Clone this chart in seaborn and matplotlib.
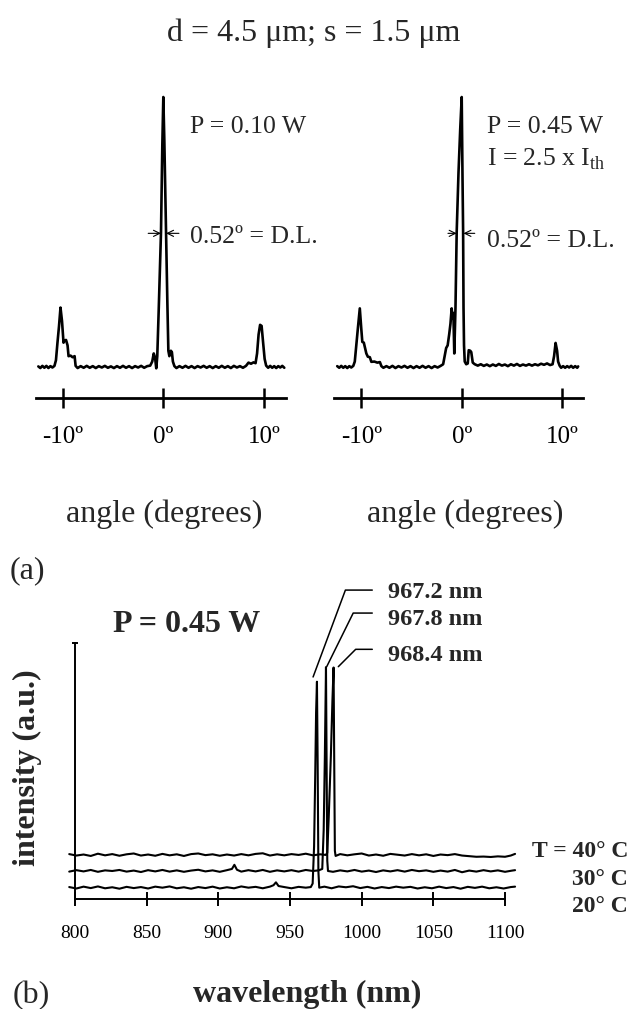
import pandas as pd
import matplotlib
matplotlib.use("Agg")
import matplotlib.pyplot as plt
import seaborn as sns

# far-field profiles (a): angle in degrees, intensity normalised to peak = 100
angle_010 = [-12.4, -12.2, -12.0, -11.8, -11.6, -11.4, -11.2, -11.0, -10.8,
             -10.65, -10.5, -10.35, -10.2, -10.05, -9.9, -9.8, -9.65, -9.5, -9.4, -9.2, -9.0, -8.8, -8.7,
             -8.5, -8.2, -7.9, -7.6, -7.3, -7.0, -6.7, -6.4, -6.1, -5.8, -5.5, -5.2, -4.9, -4.6, -4.3,
             -4.0, -3.7, -3.4, -3.1, -2.8, -2.5, -2.2, -1.9, -1.6, -1.3,
             -1.1, -0.95, -0.82, -0.7, -0.6, -0.45, -0.23, -0.1, 0.0, 0.1, 0.27, 0.4, 0.5, 0.6, 0.75,
             0.85, 0.95, 1.1,
             1.3, 1.6, 1.9, 2.2, 2.5, 2.8, 3.1, 3.4, 3.7, 4.0, 4.3, 4.6, 4.9, 5.2, 5.5, 5.8, 6.1, 6.4,
             6.7, 7.0, 7.3, 7.6, 7.9, 8.2,
             8.45, 8.7, 8.95, 9.15, 9.3, 9.45, 9.6, 9.75, 9.9, 10.05, 10.2,
             10.4, 10.6, 10.8, 11.0, 11.2, 11.4, 11.6, 11.8, 12.0]
level_010 = [0.2, -0.4, 0.4, -0.3, 0.4, -0.4, 0.3, -0.2, 0.4,
             2.5, 9.0, 15.0, 22.0, 17.0, 9.0, 9.8, 10.0, 8.0, 4.0, 4.2, 3.6, 4.0, 0.4,
             -0.4, 0.3, -0.3, 0.4, -0.3, 0.3, -0.4, 0.3, -0.2, 0.4, -0.3, 0.2, -0.4, 0.3, -0.3,
             0.4, -0.3, 0.3, -0.4, 0.3, -0.2, 0.4, -0.3, 0.3, 0.5,
             2.0, 5.0, 3.5, -0.5, 4.0, 22.0, 50.0, 82.0, 100.0, 84.0, 50.0, 24.0, 6.0, 4.0, 6.0,
             5.5, 2.0, 0.3,
             -0.4, 0.3, -0.3, 0.4, -0.3, 0.3, -0.4, 0.3, -0.2, 0.4, -0.3, 0.3, -0.4, 0.3, -0.3, 0.4,
             -0.3, 0.3, -0.4, 0.4, -0.2, 0.3, -0.3, 0.4,
             1.6, 1.2, 1.7, 1.4, 5.0, 12.0, 15.6, 15.2, 9.0, 3.0, 0.5,
             -0.3, 0.4, -0.3, 0.3, -0.4, 0.3, -0.2, 0.4, -0.3]

angle_045 = [-12.4, -12.2, -12.0, -11.8, -11.6, -11.4, -11.2, -11.0, -10.8,
             -10.65, -10.5, -10.35, -10.15, -10.0, -9.9, -9.75, -9.65, -9.5, -9.35, -9.15, -9.0, -8.7,
             -8.4, -8.15, -8.0,
             -7.8, -7.5, -7.2, -6.9, -6.6, -6.3, -6.0, -5.7, -5.4, -5.1, -4.8, -4.5, -4.2, -3.9, -3.6,
             -3.3, -3.0, -2.7, -2.4, -2.1,
             -1.85, -1.7, -1.55, -1.4, -1.25, -1.12, -1.0, -0.92, -0.83, -0.74, -0.62, -0.5, -0.32,
             -0.15, 0.0, 0.08, 0.14, 0.18, 0.23, 0.3, 0.45, 0.6, 0.7, 0.85, 0.95, 1.1, 1.3,
             1.6, 1.9, 2.2, 2.5, 2.8, 3.1, 3.4, 3.7, 4.0, 4.3, 4.6, 4.9, 5.2, 5.5, 5.8, 6.1, 6.4, 6.7,
             7.0, 7.3, 7.6, 7.9, 8.2, 8.5, 8.8,
             9.05, 9.2, 9.35, 9.5, 9.6, 9.75,
             9.9, 10.1, 10.3, 10.5, 10.7, 10.9, 11.1, 11.3, 11.5, 11.6]
level_045 = [0.3, -0.3, 0.4, -0.3, 0.3, -0.4, 0.3, -0.2, 0.4,
             2.0, 8.0, 14.0, 21.7, 14.0, 9.3, 9.0, 7.4, 5.0, 3.8, 3.6, 1.9, 2.0,
             1.6, 1.8, 0.3,
             -0.3, 0.3, -0.3, 0.4, -0.4, 0.3, -0.2, 0.4, -0.3, 0.3, -0.4, 0.3, -0.3, 0.4, -0.3,
             0.3, -0.4, 0.3, -0.2, 0.4,
             1.0, 4.0, 7.0, 8.0, 12.0, 16.0, 21.7, 18.0, 20.0, 5.0, 22.0, 50.0, 72.0,
             88.0, 100.0, 70.0, 50.0, 22.0, 8.0, 2.0, 1.0, 1.3, 6.2, 6.0, 5.5, 1.6, 1.0,
             0.5, 1.0, 0.4, 0.9, 0.3, 0.9, 0.4, 1.1, 0.5, 0.9, 0.3, 1.0, 0.5, 1.1, 0.4, 0.9, 0.5, 1.0,
             0.5, 1.0, 0.6, 1.2, 0.8, 1.3, 0.7,
             1.0, 4.0, 8.9, 6.0, 2.0, 0.5,
             -0.3, 0.3, -0.3, 0.3, -0.2, 0.4, -0.3, 0.3, -0.3, 0.2]

angle_ticks = [-10, 0, 10]
angle_tick_labels = ["-10º", "0º", "10º"]

# spectra (b): wavelength in nm, intensity in a.u. (20 °C peak = 100)
wl_20 = [796, 801, 806, 811, 816, 821, 826, 831, 836, 841, 846, 851, 856, 861, 866, 871, 876, 881,
         886, 891, 896, 901, 906, 911, 916, 921, 926, 931, 936, 938.5, 940.2, 942, 946, 951, 956,
         961, 964.5,
         965.8, 966.8, 967.6, 968.2, 968.8, 969.3, 969.8, 970.4,
         974, 979, 984, 989, 994, 999, 1004, 1009, 1014, 1019, 1024, 1029, 1034, 1039, 1044, 1049,
         1054, 1059, 1064, 1069, 1074, 1079, 1084, 1089, 1094, 1099, 1104, 1107]
int_20 = [0.3, -0.4, 0.5, -0.2, 0.6, -0.3, 0.2, -0.5, 0.4, -0.2, 0.3, -0.4, 0.5, 0.0, 0.6, -0.3, 0.2, -0.5,
          0.3, -0.2, 0.5, -0.4, 0.2, -0.3, 0.6, 0.0, 0.4, -0.3, 0.5, 1.2, 2.6, 0.8, 0.3, -0.3, 0.4,
          0.0, 0.3,
          2.0, 20.0, 55.0, 85.0, 100.0, 60.0, 8.0, 0.0,
          0.5, -0.3, 0.6, 0.2, 0.7, -0.2, 0.4, -0.4, 0.3, -0.2, 0.5, 0.0, 0.4, -0.4, 0.2, -0.3,
          0.5, -0.2, 0.3, -0.5, 0.4, -0.1, 0.5, -0.3, 0.2, -0.4, 0.3, 0.5]

wl_30 = [796, 801, 806, 811, 816, 821, 826, 831, 836, 841, 846, 851, 856, 861, 866, 871, 876, 881,
         886, 891, 896, 901, 906, 909.5, 911.2, 913, 916, 921, 926, 931, 936, 941, 946, 951, 956,
         961, 966, 970,
         972.5, 973.5, 974.3, 975.1, 975.6, 976.0, 976.5,
         980, 985, 990, 995, 1000, 1005, 1010, 1015, 1020, 1025, 1030, 1035, 1040, 1045, 1050, 1055,
         1060, 1065, 1070, 1075, 1080, 1085, 1090, 1095, 1100, 1105, 1107]
int_30 = [-0.3, 0.4, -0.2, 0.5, -0.4, 0.3, 0.0, 0.5, -0.3, 0.2, -0.5, 0.4, -0.2, 0.5, -0.3, 0.3, -0.4, 0.2,
          0.6, -0.2, 0.3, -0.4, 0.4, 1.0, 3.0, 0.6, -0.3, 0.4, -0.2, 0.5, -0.4, 0.3, -0.2, 0.4, -0.3,
          0.5, 0.0, 0.3,
          1.0, 20.0, 55.0, 99.0, 45.0, 5.0, 0.0,
          -0.4, 0.3, -0.2, 0.5, -0.3, 0.2, -0.5, 0.3, -0.2, 0.4, -0.3, 0.5, -0.1, 0.3, -0.4, 0.2,
          -0.3, 0.5, -0.6, 0.2, -0.3, 0.4, -0.2, 0.3, -0.4, 0.2, 0.4]

wl_40 = [796, 801, 806, 811, 816, 821, 826, 831, 836, 841, 846, 851, 856, 861, 866, 871, 876, 881,
         886, 891, 896, 901, 906, 911, 916, 921, 926, 931, 936, 941, 946, 951, 956, 961, 966, 971, 975,
         976.0, 977.0, 978.5, 979.6, 980.4, 980.9, 981.3, 981.8,
         985, 990, 995, 1000, 1005, 1010, 1015, 1020, 1025, 1030, 1035, 1040, 1045, 1050, 1055, 1060,
         1065, 1070, 1075, 1080, 1085, 1090, 1095, 1100, 1104, 1107]
int_40 = [0.4, -0.3, 0.2, -0.5, 0.6, -0.2, 0.4, -0.4, 0.3, 0.7, -0.3, 0.2, -0.4, 0.5, -0.2, 0.3, -0.5, 0.4,
          0.7, -0.1, 0.3, -0.4, 0.2, -0.3, 0.4, -0.2, 0.5, 0.8, -0.3, 0.3, -0.2, 0.4, 0.0, 0.6, -0.2, 0.3, 0.0,
          1.0, 18.0, 48.0, 75.0, 91.0, 40.0, 2.0, -0.5,
          0.4, -0.2, 0.3, 0.7, -0.3, 0.2, -0.4, 0.5, 0.1, -0.3, 0.4, -0.2, 0.3, -0.5, 0.2, -0.1,
          0.4, -0.3, -0.6, -0.9, -0.8, -1.0, -0.7, -0.9, -0.3, 0.5]

temperatures = ["20", "30", "40"]
peak_labels = ["967.2 nm", "967.8 nm", "968.4 nm"]
wl_ticks = [800, 850, 900, 950, 1000, 1050, 1100]

sns.set_style("white")
plt.rcParams["font.family"] = ["Liberation Serif", "DejaVu Serif"]
plt.rcParams["mathtext.fontset"] = "custom"
plt.rcParams["mathtext.rm"] = "Liberation Serif"

W, H = 633, 1009
fig = plt.figure(figsize=(W / 100, H / 100), dpi=100)


def box(l, t, r, b):
    return [l / W, 1 - b / H, (r - l) / W, (b - t) / H]


def put(px, py, s, **kw):
    fig.text(px / W, 1 - py / H, s, **kw)


# ---- (a) far-field profiles ----
panels = [
    (box(36, 90, 286, 398), (-12.63, 12.17), angle_010, level_010, (-1.5, -0.23), (1.55, 0.27)),
    (box(334, 90, 583.3, 398), (-12.72, 12.11), angle_045, level_045, (-1.37, -0.5), (1.3, 0.17)),
]
for rect, xlim, ang, lev, left_arrow, right_arrow in panels:
    ax = fig.add_axes(rect)
    sns.lineplot(x=ang, y=lev, ax=ax, color="black", lw=1.9, estimator=None, sort=False)
    ax.set_xlim(*xlim)
    ax.set_ylim(-11.5, 102.6)
    for side in ["top", "right", "left"]:
        ax.spines[side].set_visible(False)
    ax.spines["bottom"].set_color("black")
    ax.spines["bottom"].set_linewidth(2.0)
    ax.set_yticks([])
    ax.set_xticks(angle_ticks)
    ax.set_xticklabels(angle_tick_labels)
    ax.tick_params(axis="x", direction="inout", length=13.7, width=1.8, pad=13.3,
                   labelsize=18, bottom=True, colors="black")
    # FWHM arrows at half maximum
    for tail, tip in [left_arrow, right_arrow]:
        ax.annotate("", xy=(tip, 49.5), xytext=(tail, 49.5),
                    arrowprops=dict(arrowstyle="->,head_length=0.45,head_width=0.22",
                                    lw=0.8, color="black", shrinkA=0, shrinkB=0))

put(314, 40.5, "d = 4.5 μm; s = 1.5 μm", fontsize=23, ha="center", va="baseline")
put(190, 133.3, "P = 0.10 W", fontsize=18.5, va="baseline")
put(190, 243.3, "0.52º = D.L.", fontsize=18.5, va="baseline")
put(487, 133.3, "P = 0.45 W", fontsize=18.5, va="baseline")
put(487, 165, r"I = 2.5 x I$_{\mathrm{th}}$", fontsize=18.5, va="baseline")
put(487, 246.7, "0.52º = D.L.", fontsize=18.5, va="baseline")
put(164, 522, "angle (degrees)", fontsize=23, ha="center", va="baseline")
put(465, 522, "angle (degrees)", fontsize=23, ha="center", va="baseline")
put(10, 578.6, "(a)", fontsize=23, va="baseline")

# ---- (b) spectra at three temperatures ----
stack = [5.5, 13.6, 21.4]
frames = []
for temp, wl, inten, off in zip(temperatures, [wl_20, wl_30, wl_40], [int_20, int_30, int_40], stack):
    frames.append(pd.DataFrame({"wavelength": wl, "intensity": inten, "T": temp}).assign(
        shown=lambda d, o=off: d["intensity"] + o))
spectra = pd.concat(frames, ignore_index=True)

axb = fig.add_axes(box(67.8, 643, 516.5, 899))
sns.lineplot(data=spectra, x="wavelength", y="shown", hue="T", palette=["black"] * 3,
             lw=1.5, estimator=None, sort=False, legend=False, ax=axb)
axb.set_xlim(795, 1108)
axb.set_ylim(0, 124.3)
axb.set(xlabel="", ylabel="")
for side in ["top", "right"]:
    axb.spines[side].set_visible(False)
for side in ["left", "bottom"]:
    axb.spines[side].set_color("black")
    axb.spines[side].set_linewidth(1.4)
axb.spines["left"].set_position(("data", 800))
axb.spines["bottom"].set_bounds(800, 1100)
axb.set_xticks(wl_ticks)
axb.set_xticklabels([str(t) for t in wl_ticks])
axb.tick_params(axis="x", direction="inout", length=9.4, width=1.4, pad=14,
                labelsize=14, bottom=True, colors="black")
axb.set_yticks([124.3])
axb.set_yticklabels([""])
axb.tick_params(axis="y", direction="inout", length=4.5, width=1.4, left=True, colors="black")

# leader lines from the peaks to the wavelength labels
tips = [(966.1, 107.8), (975.6, 112.8), (983.7, 112.8)]
label_y = [146.1, 132.9, 115.5]
angles = [69.6, 63.7, 45]
rel_y = [0.62, 0.82, 0.8]
for lab, tip, ly, ang, ry in zip(peak_labels, tips, label_y, angles, rel_y):
    axb.annotate(lab, xy=tip, xytext=(1018.4, ly), fontsize=17.5, fontweight="bold",
                 ha="left", va="baseline", annotation_clip=False,
                 arrowprops=dict(arrowstyle="-", lw=1.1, color="black", relpos=(0, ry),
                                 shrinkA=9, shrinkB=0,
                                 connectionstyle=f"angle,angleA=0,angleB={ang},rad=0"))

put(113.3, 631.7, "P = 0.45 W", fontsize=23, fontweight="bold", va="baseline")
put(27, 768, "intensity (a.u.)", fontsize=23, fontweight="bold", rotation=90,
    ha="center", va="center")
put(628, 856.7, "T = 40° C", fontsize=17, fontweight="bold", ha="right", va="baseline")
put(628, 885, "30° C", fontsize=17, fontweight="bold", ha="right", va="baseline")
put(628, 911.7, "20° C", fontsize=17, fontweight="bold", ha="right", va="baseline")
put(307.5, 1002, "wavelength (nm)", fontsize=23, fontweight="bold", ha="center", va="baseline")
put(13, 1003, "(b)", fontsize=23, va="baseline")

fig.savefig("out.png", dpi=100)
